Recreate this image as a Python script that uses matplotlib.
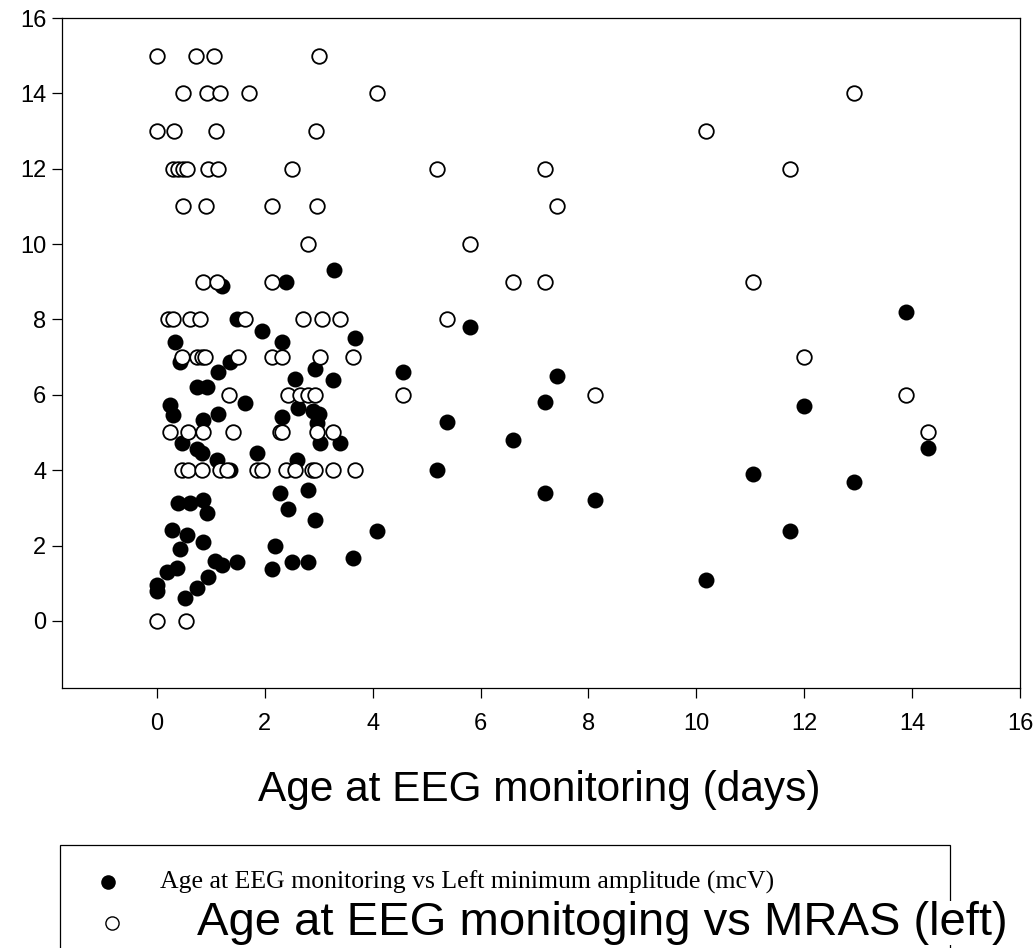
import matplotlib.pyplot as plt
from matplotlib.patches import Rectangle
from matplotlib.lines import Line2D

plt.rcParams['font.family'] = ['Liberation Sans', 'DejaVu Sans']

# age at EEG monitoring (days) vs left minimum amplitude (mcV)
ampAge = [0, 0, 0.19, 0.37, 0.52, 0.74, 0.95, 1.07, 1.2, 1.48,
          0.43, 0.28, 0.56, 0.85, 0.39, 0.61, 0.85, 0.93,
          0.46, 0.74, 0.83, 1.11, 1.35, 1.85,
          0.24, 0.3, 0.85, 1.13, 1.63,
          0.74, 0.93, 1.13, 1.35, 0.43,
          0.33, 1.48, 1.2, 1.95, 2.32, 2.4, 3.28, 3.67,
          2.93, 2.56, 3.26, 2.61, 2.9, 3.0, 2.97, 2.32, 3.02, 3.39, 2.6,
          2.28, 2.43, 2.8, 2.93, 2.19, 2.13, 2.5, 2.8, 3.63, 4.08,
          4.56, 5.19, 5.38, 5.8, 6.6, 7.19, 7.19, 7.42, 8.12,
          10.18, 11.05, 11.74, 12.0, 12.92, 13.89, 14.29]
ampVal = [0.96, 0.8, 1.3, 1.41, 0.61, 0.88, 1.17, 1.6, 1.49, 1.57,
          1.91, 2.41, 2.28, 2.1, 3.13, 3.13, 3.2, 2.86,
          4.72, 4.55, 4.45, 4.27, 4.0, 4.45,
          5.73, 5.47, 5.33, 5.5, 5.78,
          6.2, 6.2, 6.6, 6.87, 6.87,
          7.4, 8.0, 8.9, 7.7, 7.4, 9.0, 9.3, 7.5,
          6.68, 6.42, 6.4, 5.65, 5.58, 5.5, 5.25, 5.41, 4.72, 4.72, 4.27,
          3.4, 2.97, 3.48, 2.68, 1.99, 1.38, 1.57, 1.57, 1.67, 2.38,
          6.6, 4.0, 5.28, 7.8, 4.8, 5.8, 3.4, 6.5, 3.2,
          1.09, 3.9, 2.39, 5.7, 3.69, 8.2, 4.6]

# age at EEG monitoring (days) vs MRAS (left)
mrasAge = [0, 0.72, 1.06, 3.0,
           0.48, 0.93, 1.17, 1.71, 4.08, 12.92,
           0, 0.32, 1.09, 2.95, 10.18,
           0.30, 0.39, 0.48, 0.56, 0.95, 1.13, 2.5, 5.19, 7.19, 11.74,
           0.48, 0.91, 2.13, 2.97, 7.42,
           2.8, 5.8,
           0.85, 1.11, 2.13, 6.6, 7.19, 11.05,
           0.2, 0.3, 0.61, 0.8, 1.63, 2.7, 3.06, 3.39, 5.38,
           0.46, 0.74, 0.83, 0.89, 1.5, 2.13, 2.31, 3.02, 3.63, 12.0,
           1.34, 2.43, 2.65, 2.8, 2.93, 4.56, 8.12, 13.89,
           0.24, 0.57, 0.85, 1.41, 2.28, 2.31, 2.96, 3.27, 14.29,
           0.46, 0.58, 0.83, 1.17, 1.29, 1.85, 1.94, 2.4, 2.56, 2.87, 2.93, 3.27, 3.67,
           0, 0.54]
mrasVal = [15, 15, 15, 15,
           14, 14, 14, 14, 14, 14,
           13, 13, 13, 13, 13,
           12, 12, 12, 12, 12, 12, 12, 12, 12, 12,
           11, 11, 11, 11, 11,
           10, 10,
           9, 9, 9, 9, 9, 9,
           8, 8, 8, 8, 8, 8, 8, 8, 8,
           7, 7, 7, 7, 7, 7, 7, 7, 7, 7,
           6, 6, 6, 6, 6, 6, 6, 6,
           5, 5, 5, 5, 5, 5, 5, 5, 5,
           4, 4, 4, 4, 4, 4, 4, 4, 4, 4, 4, 4, 4,
           0, 0]

ticks = [0, 2, 4, 6, 8, 10, 12, 14, 16]

fig = plt.figure(figsize=(10.35, 9.48), dpi=100)
ax = fig.add_axes([0.0599, 0.2743, 0.9256, 0.7067])

ax.plot(ampAge, ampVal, 'o', color='black', markersize=11.5, markeredgewidth=0, zorder=2)
ax.plot(mrasAge, mrasVal, 'o', markerfacecolor='white', markeredgecolor='black',
        markersize=10.5, markeredgewidth=1.3, zorder=3)

ax.set_xlim(-1.76, 16)
ax.set_ylim(-1.78, 16)
ax.set_xticks(ticks)
ax.set_yticks(ticks)
ax.tick_params(direction='out', length=7.2, width=0.9, labelsize=17)
ax.tick_params(axis='x', pad=11)
ax.tick_params(axis='y', pad=4)
for s in ax.spines.values():
    s.set_linewidth(0.9)

fig.text(0.521, 0.167, 'Age at EEG monitoring (days)', ha='center', va='center', fontsize=30.5)

# legend box, runs off the bottom edge
fig.add_artist(Rectangle((0.058, -0.05), 0.86, 0.159, transform=fig.transFigure,
                         fill=False, edgecolor='black', linewidth=0.9))
fig.add_artist(Line2D([0.1043], [0.0696], transform=fig.transFigure, marker='o',
                      color='black', markersize=10.5, markeredgewidth=0))
fig.add_artist(Line2D([0.1082], [0.0264], transform=fig.transFigure, marker='o',
                      markerfacecolor='white', markeredgecolor='black',
                      markersize=9.5, markeredgewidth=1))
fig.text(0.1545, 0.0696, 'Age at EEG monitoring vs Left minimum amplitude (mcV)',
         ha='left', va='center', fontsize=18.5, family=['Liberation Serif'])
fig.text(0.19, 0.0264, 'Age at EEG monitoging vs MRAS (left)',
         ha='left', va='center', fontsize=34,
         bbox=dict(facecolor='white', edgecolor='none', pad=0))

fig.savefig('out.png', dpi=100)
